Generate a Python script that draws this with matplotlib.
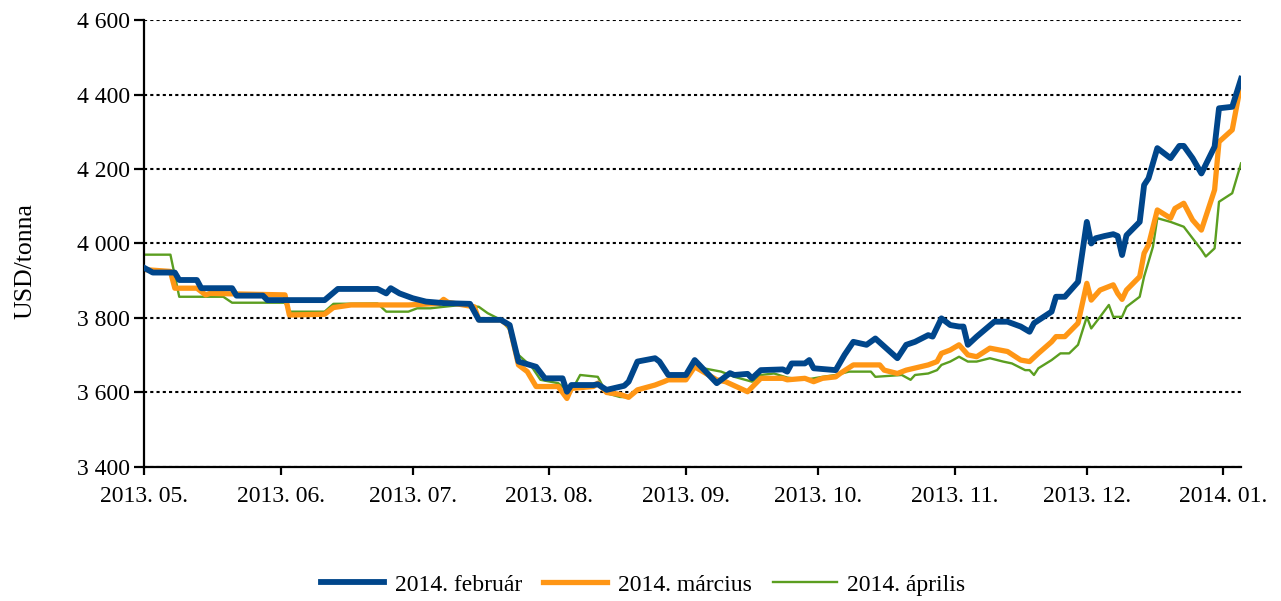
import numpy as np
import pandas as pd
import matplotlib
matplotlib.use('Agg')
import matplotlib.pyplot as plt
import matplotlib.dates as mdates
from matplotlib.ticker import FuncFormatter, MultipleLocator

plt.rcParams['font.family'] = 'serif'
plt.rcParams['font.serif'] = ['Liberation Serif', 'DejaVu Serif']
plt.rcParams['font.size'] = 17

# 2014. február contract
feb_dates = ['2013-05-01', '2013-05-03', '2013-05-08', '2013-05-09', '2013-05-13', '2013-05-14',
             '2013-05-21', '2013-05-22', '2013-05-28', '2013-05-29', '2013-06-11', '2013-06-14',
             '2013-06-23', '2013-06-25', '2013-06-26', '2013-06-28', '2013-07-01', '2013-07-04',
             '2013-07-08', '2013-07-14', '2013-07-16', '2013-07-21', '2013-07-23', '2013-07-25',
             '2013-07-29', '2013-07-31', '2013-08-04', '2013-08-05', '2013-08-06', '2013-08-11',
             '2013-08-12', '2013-08-14', '2013-08-18', '2013-08-19', '2013-08-21', '2013-08-25',
             '2013-08-26', '2013-08-28', '2013-09-01', '2013-09-03', '2013-09-08', '2013-09-11',
             '2013-09-12', '2013-09-15', '2013-09-16', '2013-09-18', '2013-09-23', '2013-09-24',
             '2013-09-25', '2013-09-28', '2013-09-29', '2013-09-30', '2013-10-05', '2013-10-07',
             '2013-10-09', '2013-10-12', '2013-10-14', '2013-10-19', '2013-10-21', '2013-10-23',
             '2013-10-26', '2013-10-27', '2013-10-29', '2013-10-31', '2013-11-02', '2013-11-03',
             '2013-11-04', '2013-11-06', '2013-11-10', '2013-11-13', '2013-11-16', '2013-11-18',
             '2013-11-19', '2013-11-23', '2013-11-24', '2013-11-26', '2013-11-29', '2013-12-01',
             '2013-12-02', '2013-12-03', '2013-12-05', '2013-12-07', '2013-12-08', '2013-12-09',
             '2013-12-10', '2013-12-13', '2013-12-14', '2013-12-15', '2013-12-17', '2013-12-20',
             '2013-12-22', '2013-12-23', '2013-12-25', '2013-12-27', '2013-12-30', '2013-12-31',
             '2014-01-03', '2014-01-05']
feb_vals = [3935, 3922, 3922, 3902, 3902, 3880,
            3880, 3860, 3860, 3848, 3848, 3878,
            3878, 3866, 3880, 3866, 3853, 3844,
            3840, 3838, 3795, 3795, 3781, 3683,
            3669, 3638, 3638, 3602, 3620, 3620,
            3622, 3607, 3618, 3629, 3683, 3692,
            3683, 3647, 3647, 3687, 3625, 3652,
            3647, 3650, 3638, 3660, 3662, 3656,
            3678, 3678, 3687, 3665, 3660, 3701,
            3736, 3728, 3745, 3692, 3728, 3736,
            3754, 3750, 3799, 3781, 3777, 3777,
            3728, 3750, 3790, 3790, 3777, 3763,
            3786, 3817, 3857, 3857, 3897, 4058,
            4000, 4014, 4020, 4025, 4020, 3969,
            4022, 4058, 4157, 4175, 4256, 4229,
            4262, 4262, 4229, 4188, 4260, 4363,
            4367, 4442]

# 2014. március contract
mar_dates = ['2013-05-01', '2013-05-07', '2013-05-08', '2013-05-13', '2013-05-15', '2013-05-16',
             '2013-06-02', '2013-06-03', '2013-06-11', '2013-06-13', '2013-06-17', '2013-06-30',
             '2013-07-07', '2013-07-08', '2013-07-09', '2013-07-15', '2013-07-16', '2013-07-21',
             '2013-07-23', '2013-07-25', '2013-07-27', '2013-07-29', '2013-08-03', '2013-08-05',
             '2013-08-06', '2013-08-11', '2013-08-12', '2013-08-14', '2013-08-17', '2013-08-19',
             '2013-08-21', '2013-08-25', '2013-08-27', '2013-08-28', '2013-09-01', '2013-09-03',
             '2013-09-08', '2013-09-10', '2013-09-15', '2013-09-18', '2013-09-23', '2013-09-24',
             '2013-09-28', '2013-09-30', '2013-10-02', '2013-10-05', '2013-10-06', '2013-10-09',
             '2013-10-15', '2013-10-16', '2013-10-19', '2013-10-21', '2013-10-26', '2013-10-28',
             '2013-10-29', '2013-10-31', '2013-11-02', '2013-11-04', '2013-11-06', '2013-11-09',
             '2013-11-13', '2013-11-16', '2013-11-18', '2013-11-20', '2013-11-23', '2013-11-24',
             '2013-11-26', '2013-11-29', '2013-12-01', '2013-12-02', '2013-12-04', '2013-12-07',
             '2013-12-08', '2013-12-09', '2013-12-10', '2013-12-13', '2013-12-14', '2013-12-15',
             '2013-12-17', '2013-12-20', '2013-12-21', '2013-12-23', '2013-12-25', '2013-12-27',
             '2013-12-30', '2013-12-31', '2014-01-03', '2014-01-05']
mar_vals = [3930, 3925, 3880, 3880, 3862, 3866,
            3862, 3808, 3810, 3828, 3835, 3835,
            3839, 3850, 3842, 3830, 3795, 3795,
            3777, 3674, 3656, 3616, 3616, 3584,
            3611, 3616, 3625, 3600, 3595, 3587,
            3607, 3620, 3629, 3634, 3634, 3669,
            3634, 3629, 3602, 3638, 3638, 3634,
            3638, 3629, 3638, 3642, 3651, 3674,
            3674, 3660, 3651, 3660, 3674, 3683,
            3705, 3714, 3728, 3701, 3696, 3719,
            3710, 3687, 3683, 3705, 3736, 3750,
            3750, 3786, 3893, 3848, 3875, 3889,
            3866, 3850, 3875, 3911, 3974, 3996,
            4090, 4068, 4094, 4108, 4063, 4036,
            4144, 4273, 4305, 4430]

# 2014. április contract
apr_dates = ['2013-05-01', '2013-05-07', '2013-05-09', '2013-05-19', '2013-05-21', '2013-06-02',
             '2013-06-03', '2013-06-11', '2013-06-13', '2013-06-23', '2013-06-25', '2013-06-30',
             '2013-07-02', '2013-07-05', '2013-07-08', '2013-07-12', '2013-07-16', '2013-07-18',
             '2013-07-21', '2013-07-23', '2013-07-25', '2013-07-28', '2013-07-30', '2013-08-03',
             '2013-08-05', '2013-08-07', '2013-08-08', '2013-08-12', '2013-08-14', '2013-08-17',
             '2013-08-19', '2013-08-21', '2013-08-25', '2013-08-28', '2013-09-01', '2013-09-03',
             '2013-09-05', '2013-09-09', '2013-09-12', '2013-09-16', '2013-09-18', '2013-09-21',
             '2013-09-24', '2013-09-28', '2013-10-02', '2013-10-05', '2013-10-08', '2013-10-13',
             '2013-10-14', '2013-10-20', '2013-10-22', '2013-10-23', '2013-10-26', '2013-10-28',
             '2013-10-29', '2013-10-31', '2013-11-02', '2013-11-04', '2013-11-06', '2013-11-09',
             '2013-11-12', '2013-11-14', '2013-11-17', '2013-11-18', '2013-11-19', '2013-11-20',
             '2013-11-23', '2013-11-25', '2013-11-27', '2013-11-29', '2013-12-01', '2013-12-02',
             '2013-12-04', '2013-12-06', '2013-12-07', '2013-12-09', '2013-12-10', '2013-12-13',
             '2013-12-14', '2013-12-16', '2013-12-17', '2013-12-20', '2013-12-23', '2013-12-25',
             '2013-12-27', '2013-12-28', '2013-12-30', '2013-12-31', '2014-01-03', '2014-01-05']
apr_vals = [3970, 3970, 3857, 3857, 3841, 3841,
            3817, 3817, 3838, 3839, 3817, 3817,
            3826, 3826, 3830, 3835, 3830, 3813,
            3795, 3768, 3701, 3669, 3634, 3625,
            3607, 3625, 3647, 3642, 3598, 3588,
            3587, 3607, 3620, 3634, 3636, 3669,
            3665, 3656, 3642, 3629, 3647, 3651,
            3640, 3634, 3642, 3647, 3656, 3656,
            3642, 3647, 3634, 3647, 3651, 3660,
            3674, 3683, 3696, 3683, 3683, 3692,
            3683, 3678, 3660, 3660, 3647, 3665,
            3687, 3705, 3705, 3728, 3803, 3772,
            3803, 3835, 3803, 3803, 3830, 3857,
            3911, 3991, 4068, 4058, 4045, 4014,
            3983, 3965, 3987, 4112, 4135, 4215]

series = [
    ('2014. február', feb_dates, feb_vals, '#00468b', 4.2, 3),
    ('2014. március', mar_dates, mar_vals, '#ff9615', 3.8, 2),
    ('2014. április', apr_dates, apr_vals, '#5b9e20', 1.7, 1),
]

fig = plt.figure(figsize=(12.81, 6.01), dpi=100)
ax = fig.add_axes([0.1124, 0.2230, 0.8564, 0.7437])

handles = []
for label, dates, vals, color, lw, z in series:
    ln, = ax.plot(pd.to_datetime(dates), vals, color=color, lw=lw, zorder=z,
                  label=label, solid_joinstyle='round')
    handles.append(ln)

ax.set_ylim(3400, 4600)
ax.set_xlim(pd.Timestamp('2013-05-01'), pd.Timestamp('2014-01-05'))
ax.yaxis.set_major_locator(MultipleLocator(200))
ax.yaxis.set_major_formatter(FuncFormatter(lambda v, p: f'{int(v):,}'.replace(',', ' ')))
ax.xaxis.set_major_locator(mdates.MonthLocator())
ax.xaxis.set_major_formatter(mdates.DateFormatter('%Y. %m.'))

ax.grid(axis='y', color='black', linestyle=(0, (1.5, 1.5)), linewidth=1.5, zorder=0)
ax.set_axisbelow(True)

for s in ['top', 'right']:
    ax.spines[s].set_visible(False)
for s in ['left', 'bottom']:
    ax.spines[s].set_linewidth(1.6)
ax.tick_params(axis='y', direction='out', length=7, width=1.6, pad=3)
ax.tick_params(axis='x', direction='out', length=6, width=1.6, pad=8)

ax.set_ylabel('USD/tonna', fontsize=18.5)
ax.yaxis.set_label_coords(-0.098, 0.46)

fig.legend(handles=handles, loc='center', bbox_to_anchor=(0.502, 0.027), ncol=3,
           frameon=False, handlelength=2.7, handletextpad=0.45, columnspacing=0.9)

fig.savefig('out.png', dpi=100)
